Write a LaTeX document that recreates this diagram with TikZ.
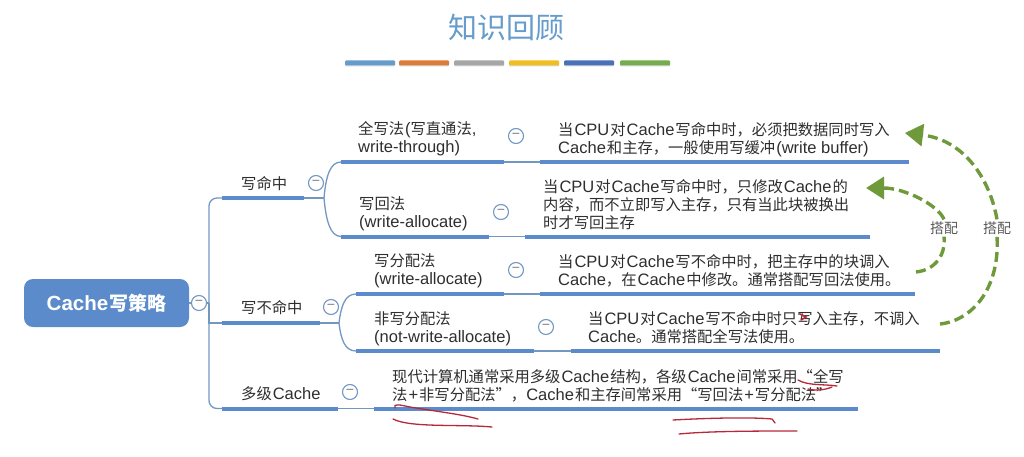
\documentclass[tikz,border=0pt]{standalone}
\usepackage{fontspec}
\setmainfont{Noto Sans CJK SC}
\newfontfamily\latfont[Scale=1.08]{Liberation Sans}
\newcommand{\la}[1]{{\latfont #1}}
\newcommand{\gp}{\kern1pt}
\usetikzlibrary{arrows.meta,shadows}
\definecolor{mapblue}{HTML}{5B8BCB}
\definecolor{linkblue}{HTML}{7298C2}
\definecolor{penred}{HTML}{B5293A}
\definecolor{pairgreen}{HTML}{6F9A3C}
\definecolor{inktext}{HTML}{2E2E2E}
\definecolor{titleblue}{HTML}{659CCB}
\definecolor{barorange}{HTML}{DB7B3C}
\definecolor{baryellow}{HTML}{EFBF22}
\definecolor{barblue}{HTML}{4A70B8}
\definecolor{bargreen}{HTML}{74AC4E}
\tikzset{
	barbox/.style={fill=mapblue,inner sep=0pt,minimum height=4pt,anchor=west},
	titlebar/.style={inner sep=0pt,minimum height=5pt,minimum width=50pt,rounded corners=1pt,drop shadow={opacity=.3,shadow xshift=0pt,shadow yshift=-1pt}},
	link/.style={draw=linkblue,line width=1.3pt},
	toggle/.style={circle,draw=linkblue,fill=white,line width=1.1pt,minimum size=15pt,inner sep=0pt,text=gray,font=\fontsize{13}{13}\selectfont},
	topic/.style={anchor=west,inner sep=0pt,align=left,yshift=-1pt,text=inktext,font=\fontsize{15.3}{18}\selectfont},
	pairlabel/.style={inner sep=2pt,text=black!65,font=\fontsize{14}{16}\selectfont},
	pairline/.style={draw=pairgreen,line width=3.4pt,dash pattern=on 10pt off 5pt},
	pairtip/.style={-{Triangle[length=18pt,width=22pt,fill=pairgreen]}},
	penline/.style={draw=penred,line width=1.3pt,line cap=round}
}
\begin{document}
\begin{tikzpicture}[x=1pt,y=-1pt]
	\useasboundingbox (0,0) rectangle (1024,457);
	% title
	\node[inner sep=0pt,text=titleblue,font=\fontsize{29}{32}\selectfont] (title) at (506,28){知识回顾};
	\node[titlebar,fill=titleblue] (bara) at (370,63){};
	\node[titlebar,fill=barorange] (barb) at (424,63){};
	\node[titlebar,fill=black!35] (barc) at (479,63){};
	\node[titlebar,fill=baryellow] (bard) at (534,63){};
	\node[titlebar,fill=barblue] (bare) at (589,63){};
	\node[titlebar,fill=bargreen] (barf) at (645,63){};
	% root
	\node[fill=mapblue,rounded corners=9pt,minimum width=165pt,minimum height=48pt,inner sep=0pt,text=white,font=\fontsize{19}{22}\selectfont\bfseries] (root) at (106.5,303){\la{\bfseries Cache}\gp 写策略};
	\node[toggle] (troot) at (199,303){\la{−}};
	\coordinate (trunk) at (209,303);
	% first level
	\node[barbox,minimum width=82pt] (hit) at (222,198){};
	\node[barbox,minimum width=98pt] (miss) at (222,323){};
	\node[barbox,minimum width=116pt] (multi) at (222,408.5){};
	\node[topic] (hittext) at (241,183){写命中};
	\node[topic] (misstext) at (241,307){写不命中};
	\node[topic] (multitext) at (241,393){多级\gp\la{Cache}};
	\node[toggle] (thit) at (316,183){\la{−}};
	\node[toggle] (tmiss) at (331,307){\la{−}};
	\node[toggle] (tmulti) at (350,392){\la{−}};
	\draw[link] (troot) -- (trunk);
	\draw[link] (root.east) -- (troot);
	\draw[link,rounded corners=8pt] (hit.west) -| (trunk);
	\draw[link] (miss.west) -| (trunk);
	\draw[link,rounded corners=8pt] (multi.west) -| (trunk);
	% second level
	\node[barbox,minimum width=163pt] (through) at (341,162){};
	\node[barbox,minimum width=148pt] (back) at (341,236.5){};
	\node[barbox,minimum width=148pt] (alloc) at (356,294){};
	\node[barbox,minimum width=178pt] (noalloc) at (356,351){};
	\coordinate (hitfork) at (324,198);
	\coordinate (missfork) at (339,323);
	\draw[link] (hit.east) -- (hitfork);
	\draw[link] (miss.east) -- (missfork);
	\draw[link] (hitfork) .. controls (326,176) and (330,162) .. (through.west);
	\draw[link] (hitfork) .. controls (326,220) and (330,236.5) .. (back.west);
	\draw[link] (missfork) .. controls (341,306) and (345,294) .. (alloc.west);
	\draw[link] (missfork) .. controls (341,340) and (345,351) .. (noalloc.west);
	\node[topic] (throughtext) at (358,138){全写法\gp\la{(}写直通法\la{,}\\\la{write-through)}};
	\node[topic] (backtext) at (359,213){写回法\\\la{(write-allocate)}};
	\node[topic] (alloctext) at (374,270){写分配法\\\la{(write-allocate)}};
	\node[topic] (noalloctext) at (374,328){非写分配法\\\la{(not-write-allocate)}};
	\node[toggle] (tthrough) at (516,136){\la{−}};
	\node[toggle] (tback) at (501,212){\la{−}};
	\node[toggle] (talloc) at (516,270){\la{−}};
	\node[toggle] (tnoalloc) at (546,327){\la{−}};
	% third level
	\node[barbox,minimum width=369pt] (throughnote) at (540,162){};
	\node[barbox,minimum width=345pt] (backnote) at (525,236.5){};
	\node[barbox,minimum width=375pt] (allocnote) at (540,294){};
	\node[barbox,minimum width=369pt] (noallocnote) at (571,351){};
	\node[barbox,minimum width=484pt] (multinote) at (374,408.5){};
	\draw[link] (through.east) -- (throughnote.west);
	\draw[link] (back.east) -- (backnote.west);
	\draw[link] (alloc.east) -- (allocnote.west);
	\draw[link] (noalloc.east) -- (noallocnote.west);
	\draw[link] (multi.east) -- (multinote.west);
	\node[topic] (throughbody) at (558,139){当\gp\la{CPU}\gp 对\gp\la{Cache}\gp 写命中时，必须把数据同时写入\\\la{Cache}\gp 和主存，一般使用写缓冲\gp\la{(write buffer)}};
	\node[topic] (backbody) at (543,204){当\gp\la{CPU}\gp 对\gp\la{Cache}\gp 写命中时，只修改\gp\la{Cache}\gp 的\\内容，而不立即写入主存，只有当此块被换出\\时才写回主存};
	\node[topic] (allocbody) at (558,270){当\gp\la{CPU}\gp 对\gp\la{Cache}\gp 写不命中时，把主存中的块调入\\\la{Cache}，在\gp\la{Cache}\gp 中修改。通常搭配写回法使用。};
	\node[topic] (noallocbody) at (588,327){当\gp\la{CPU}\gp 对\gp\la{Cache}\gp 写不命中时只写入主存，不调入\\\la{Cache}。通常搭配全写法使用。};
	\node[topic] (multibody) at (392,384.5){现代计算机通常采用多级\gp\la{Cache}\gp 结构，各级\gp\la{Cache}\gp 间常采用“全写\\法\gp\la{+}\gp 非写分配法”，\la{Cache}\gp 和主存间常采用“写回法\gp\la{+}\gp 写分配法”};
	% pairing arrows
	\node[pairlabel] (pairfar) at (997,228){搭配};
	\node[pairlabel] (pairnear) at (944,228){搭配};
	\coordinate (farstart) at (940,324);
	\coordinate (farend) at (905,133);
	\coordinate (nearstart) at (916,272);
	\coordinate (nearend) at (866,188);
	\draw[pairline] (farstart) .. controls (975,320) and (1000,285) .. (pairfar.south);
	\draw[pairline,pairtip] (pairfar.north) .. controls (990,180) and (965,140) .. (farend);
	\draw[pairline] (nearstart) .. controls (935,270) and (946,255) .. (pairnear.south);
	\draw[pairline,pairtip] (pairnear.north) .. controls (938,205) and (905,188) .. (nearend);
	% pen marks
	\draw[penline] (395,408) .. controls (393,403) and (400,405) .. (410,407) .. controls (440,412) and (460,414) .. (478,419);
	\draw[penline] (393,419) .. controls (410,428) and (460,424) .. (492,427);
	\draw[penline] (673,420) .. controls (710,418) and (750,417) .. (772,419) -- (775,423);
	\draw[penline] (679,434) .. controls (710,431) and (760,431) .. (797,431);
	\draw[penline] (798,380) .. controls (808,386) and (825,384) .. (837,386);
	\draw[penline] (808,389) .. controls (815,391) and (825,390) .. (832,387);
	\draw[penline,line width=1.6pt] (800,314) -- (806,317) -- (801,320);
\end{tikzpicture}
\end{document}
